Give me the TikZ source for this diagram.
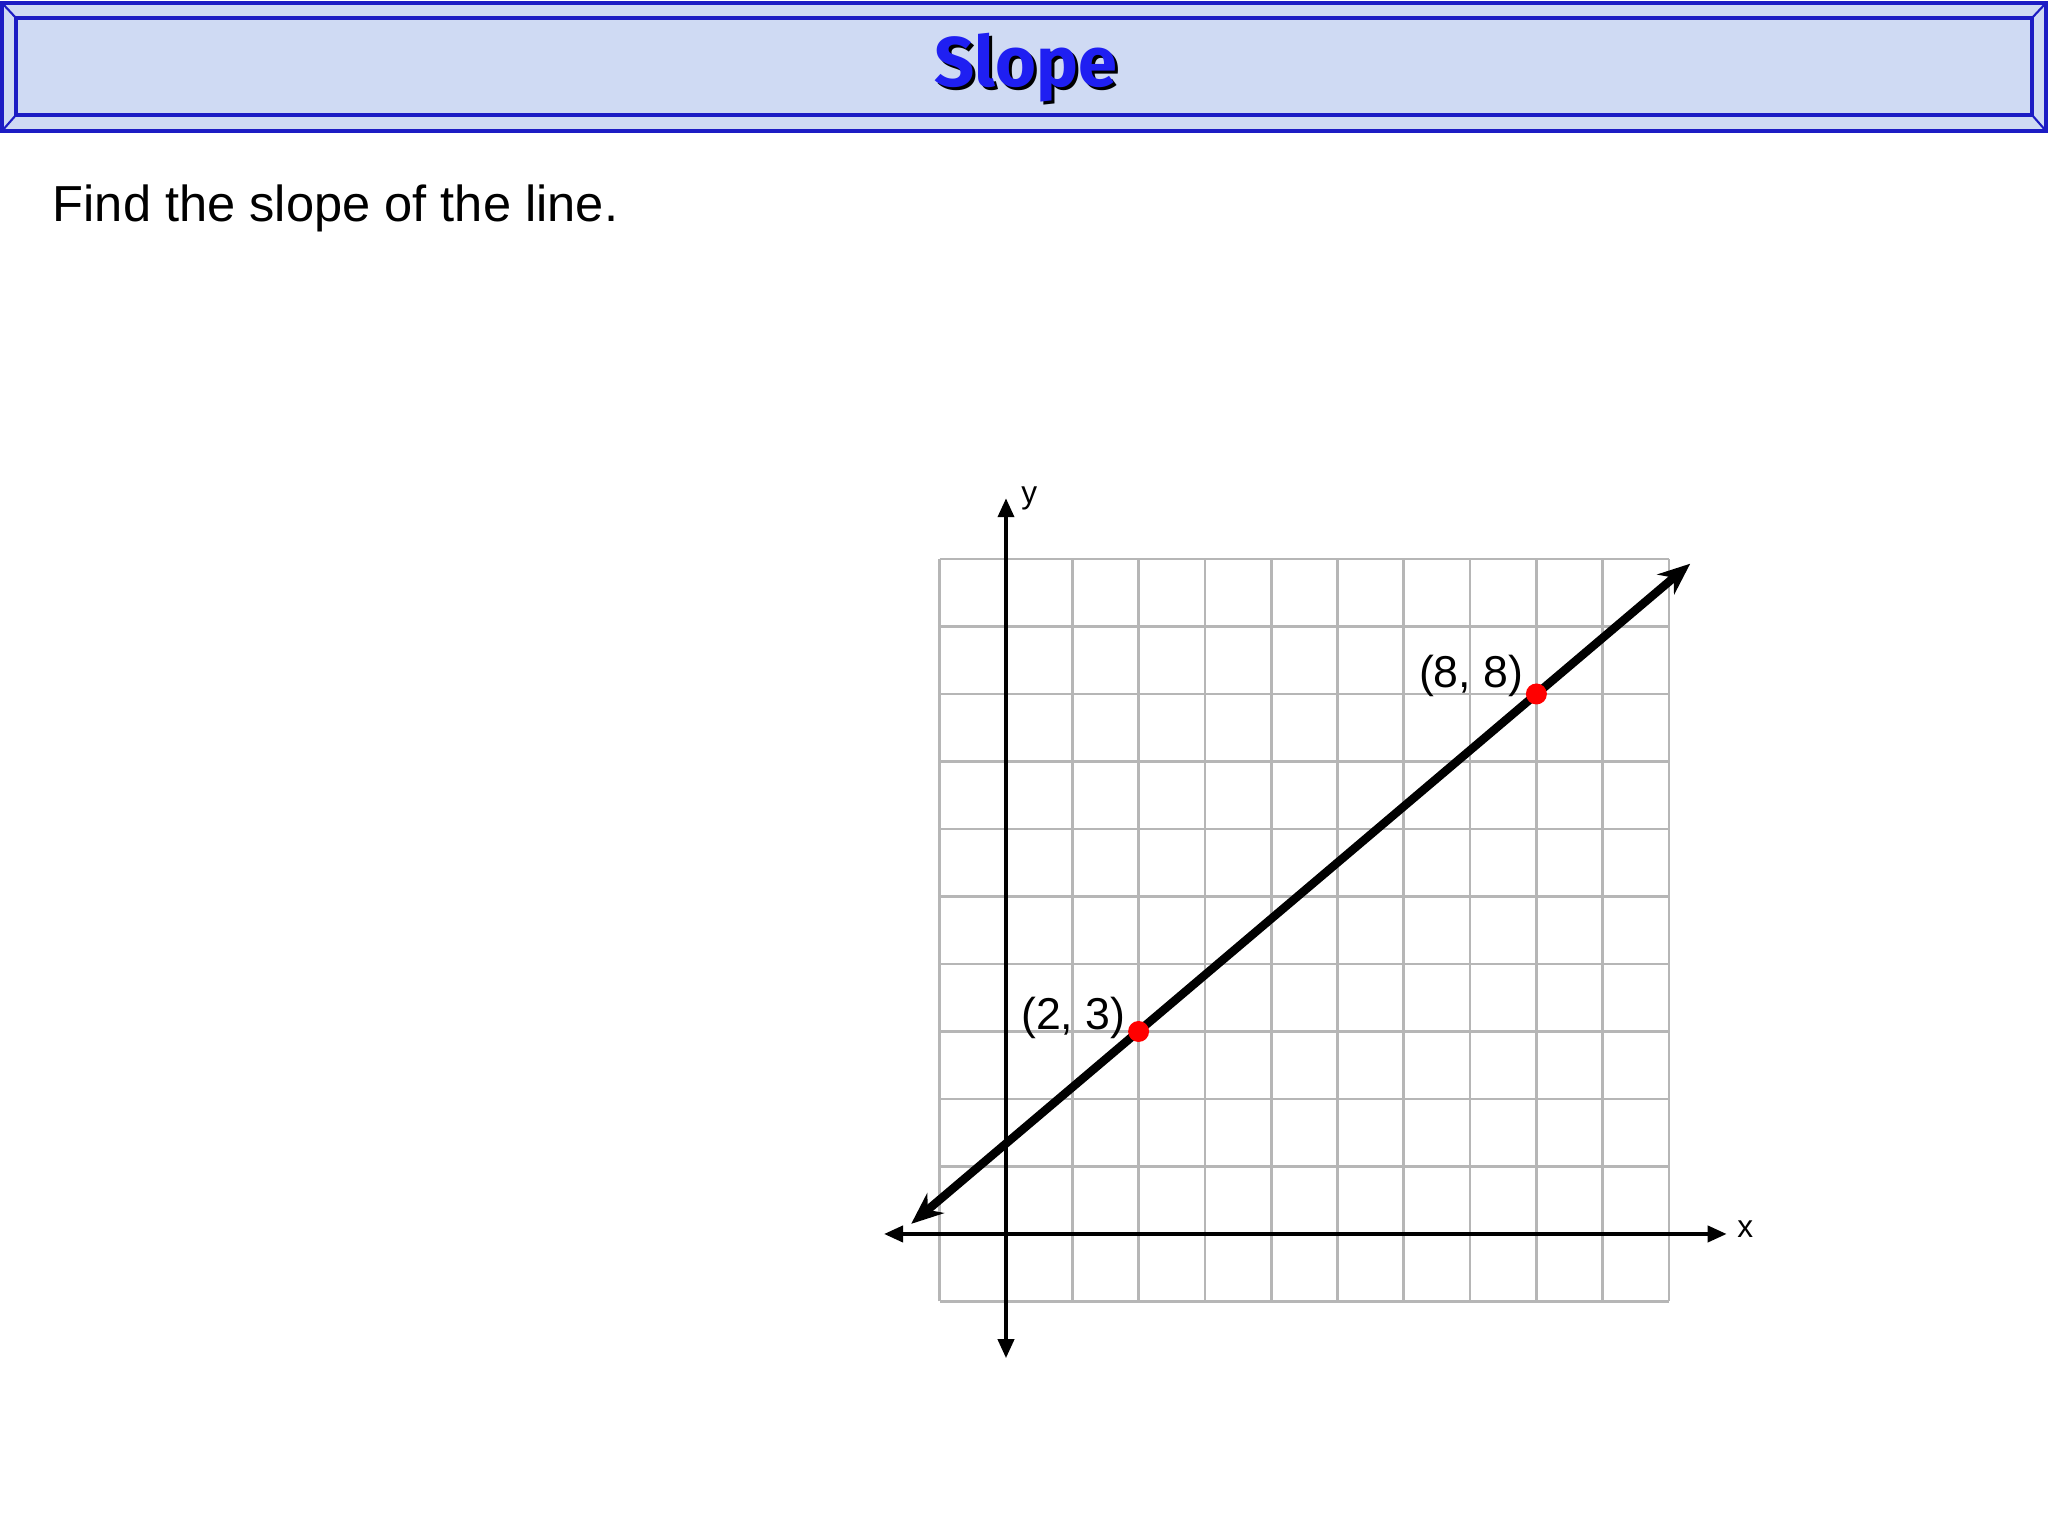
\documentclass[tikz,border=0pt]{standalone}
\usepackage{fontspec}
\setmainfont{Liberation Sans}
\newfontfamily\titlefont{Fira Sans}
\usetikzlibrary{arrows.meta}
\definecolor{bannerfill}{HTML}{CFDAF3}
\definecolor{bannerline}{HTML}{1C1CC4}
\definecolor{titleblue}{HTML}{1F1FF2}
\definecolor{gridgray}{HTML}{B6B6B6}
\tikzset{reddot/.style={shape=circle, fill=red, inner sep=0pt, outer sep=0pt, minimum size=2.1mm}}
\tikzset{axisline/.style={line width=1.1pt, {Triangle[length=1.9mm,width=1.6mm]}-{Triangle[length=1.9mm,width=1.6mm]}}}
\tikzset{slopeline/.style={line width=2.4pt, {Stealth[length=3.2mm,width=2.6mm]}-{Stealth[length=3.2mm,width=2.6mm]}}}
\tikzset{ptlabel/.style={font=\fontsize{12.7}{14}\selectfont, inner sep=0pt}}

\begin{document}
\begin{tikzpicture}
\useasboundingbox (0,0) rectangle (20.48,15.36);
% banner
\fill[color=bannerfill] (0.02,14.05) rectangle (20.46,15.33);
\draw[bannerline, line width=1pt] (0.02,14.05) rectangle (20.46,15.33);
\draw[bannerline, line width=1pt] (0.16,14.21) rectangle (20.32,15.18);
\draw[bannerline, line width=0.6pt] (0.02,14.05) -- (0.16,14.21);
\draw[bannerline, line width=0.6pt] (0.02,15.33) -- (0.16,15.18);
\draw[bannerline, line width=0.6pt] (20.46,14.05) -- (20.32,14.21);
\draw[bannerline, line width=0.6pt] (20.46,15.33) -- (20.32,15.18);
\node[font=\titlefont\bfseries\fontsize{20}{24}\selectfont, text=black] (titleshadow) at (10.29,14.65) {Slope};
\node[font=\titlefont\bfseries\fontsize{20}{24}\selectfont, text=titleblue] (title) at (10.26,14.68) {Slope};
\node[anchor=base west, inner sep=0pt, font=\fontsize{14.4}{17}\selectfont] (task) at (0.52,13.14) {Find the slope of the line.};

\begin{scope}[shift={(10.06cm,3.02cm)}, x=0.663cm, y=0.675cm]
\foreach \i in {-1,...,10} {
  \draw[gridgray, line width=0.75pt] (\i,-1) -- (\i,10);
  \draw[gridgray, line width=0.75pt] (-1,\i) -- (10,\i);
}
\coordinate (xl) at (-1.84,0);
\coordinate (xr) at (10.87,0);
\coordinate (yb) at (0,-1.84);
\coordinate (yt) at (0,10.9);
\draw[axisline] (xl) -- (xr);
\draw[axisline] (yb) -- (yt);
\node[font=\fontsize{9}{10}\selectfont] (xlab) at (11.15,0.07) {x};
\node[font=\fontsize{9}{10}\selectfont] (ylab) at (0.35,10.9) {y};
\coordinate (lo) at (-1.43,0.15);
\coordinate (hi) at (10.32,9.93);
\draw[slopeline] (lo) -- (hi);
\node[style=reddot, label={[style=ptlabel, label distance=0.2mm, yshift=1.35mm]left:(2, 3)}] (p23) at (2,3) {};
\node[style=reddot, label={[style=ptlabel, label distance=0.2mm, yshift=1.8mm]left:(8, 8)}] (p88) at (8,8) {};
\end{scope}
\end{tikzpicture}
\end{document}
